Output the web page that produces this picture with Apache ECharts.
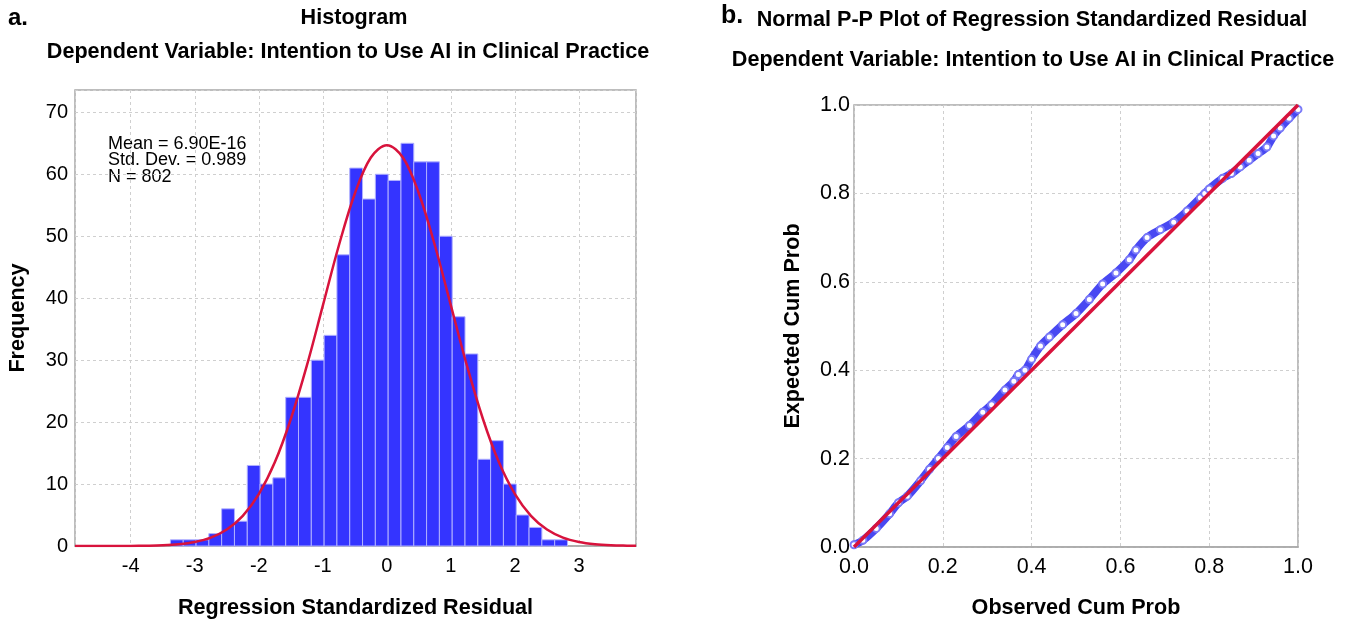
<!DOCTYPE html>
<html>
<head>
<meta charset="utf-8">
<script src="https://cdn.jsdelivr.net/npm/echarts@6/dist/echarts.min.js"></script>
<style>
html,body{margin:0;padding:0;background:#fff;}
#chart{width:1355px;height:624px;}
</style>
</head>
<body>
<div id="chart"></div>
<script>
// ---- Histogram data ----
const binWidth = 0.2;
const binCenters = [-3.28,-3.08,-2.88,-2.68,-2.48,-2.28,-2.08,-1.88,-1.68,-1.48,-1.28,-1.08,-0.88,-0.68,-0.48,-0.28,-0.08,0.12,0.32,0.52,0.72,0.92,1.12,1.32,1.52,1.72,1.92,2.12,2.32,2.52,2.72];
const binCounts  = [1,1,1,2,6,4,13,10,11,24,24,30,34,47,61,56,60,59,65,62,62,50,37,31,14,17,10,5,3,1,1];
// normal curve
const curveX = [-4.87,-4.5,-4.25,-4,-3.75,-3.5,-3.25,-3,-2.75,-2.5,-2.25,-2,-1.75,-1.5,-1.25,-1,-0.75,-0.5,-0.25,0,0.25,0.5,0.75,1,1.25,1.5,1.75,2,2.25,2.5,2.75,3,3.25,3.5,3.75,3.89];
const curveY = [0,0.002,0.006,0.018,0.05,0.12,0.29,0.65,1.35,2.65,4.87,8.37,13.5,20.5,29.1,38.8,48.5,56.9,62.7,64.7,62.7,56.9,48.5,38.8,29.1,20.5,13.5,8.37,4.87,2.65,1.35,0.65,0.29,0.12,0.05,0.03];
const statsLines = ['Mean = 6.90E-16','Std. Dev. = 0.989','N = 802'];

// ---- P-P plot data ----
const obsProb = [0.00,0.02,0.05,0.08,0.10,0.12,0.15,0.17,0.19,0.21,0.23,0.26,0.29,0.31,0.34,0.36,0.37,0.385,0.40,0.42,0.44,0.47,0.50,0.53,0.56,0.59,0.62,0.635,0.66,0.69,0.72,0.75,0.78,0.79,0.80,0.83,0.85,0.87,0.89,0.91,0.93,0.945,0.96,0.98,1.00];
const expProb = [0.005,0.015,0.042,0.075,0.10,0.115,0.15,0.176,0.20,0.225,0.25,0.275,0.305,0.322,0.355,0.375,0.39,0.40,0.425,0.455,0.475,0.503,0.528,0.56,0.595,0.62,0.65,0.672,0.70,0.718,0.735,0.76,0.79,0.80,0.81,0.834,0.845,0.86,0.875,0.89,0.905,0.93,0.948,0.97,0.99];
const refLine = [[0,0],[1,1]];

const FONT = "'Liberation Sans', Arial, sans-serif";
const RED = '#d8133c';
const BLUE = '#3434ff';
const splitStyle = {show:true, lineStyle:{color:'#cfcfcf', width:1, type:[3,3]}};

const chart = echarts.init(document.getElementById('chart'), null, {renderer:'canvas'});

function titleText(x, y, text, size, align){
  return {type:'text', x:x, y:y, style:{text:text, fontFamily:FONT, fontWeight:'bold', fontSize:size, fill:'#000', align:align||'center', verticalAlign:'middle'}};
}
function statText(y, text){
  return {type:'text', x:108, y:y, style:{text:text, fontFamily:FONT, fontSize:18, fill:'#000', align:'left', verticalAlign:'middle'}};
}

const option = {
  backgroundColor:'#fff',
  animation:false,
  textStyle:{fontFamily:FONT},
  grid:[
    {left:75, right:719, top:90, bottom:77, show:true, borderColor:'#a8a8a8', borderWidth:1.5, backgroundColor:'#fff'},
    {left:854, right:57, top:105, bottom:76, show:true, borderColor:'#a8a8a8', borderWidth:1.5, backgroundColor:'#fff'}
  ],
  xAxis:[
    {type:'value', gridIndex:0, min:-4.87, max:3.89, splitNumber:8,
     axisLine:{show:true, onZero:false, lineStyle:{color:'#a8a8a8', width:1.5}}, axisTick:{show:false},
     axisLabel:{showMinLabel:false, showMaxLabel:false, color:'#000', fontSize:20, margin:10, fontFamily:FONT},
     splitLine:splitStyle,
     name:'Regression Standardized Residual', nameLocation:'middle', nameGap:51,
     nameTextStyle:{fontSize:21.6, fontWeight:'bold', color:'#000', fontFamily:FONT}},
    {type:'value', gridIndex:1, min:0, max:1, interval:0.2,
     axisLine:{show:true, lineStyle:{color:'#a8a8a8', width:1.5}}, axisTick:{show:false},
     axisLabel:{color:'#000', fontSize:21.5, margin:9, fontFamily:FONT, formatter:v=>v.toFixed(1)},
     splitLine:splitStyle,
     name:'Observed Cum Prob', nameLocation:'middle', nameGap:50,
     nameTextStyle:{fontSize:21.6, fontWeight:'bold', color:'#000', fontFamily:FONT}}
  ],
  yAxis:[
    {type:'value', gridIndex:0, min:0, max:73.6, interval:10,
     axisLine:{show:false}, axisTick:{show:false},
     axisLabel:{showMaxLabel:false, color:'#000', fontSize:20, margin:7, fontFamily:FONT},
     splitLine:splitStyle,
     name:'Frequency', nameLocation:'middle', nameGap:46,
     nameTextStyle:{fontSize:21.6, fontWeight:'bold', color:'#000', fontFamily:FONT}},
    {type:'value', gridIndex:1, min:0, max:1, interval:0.2,
     axisLine:{show:false}, axisTick:{show:false},
     axisLabel:{color:'#000', fontSize:21.5, margin:4, fontFamily:FONT, formatter:v=>v.toFixed(1)},
     splitLine:splitStyle,
     name:'Expected Cum Prob', nameLocation:'middle', nameGap:50,
     nameTextStyle:{fontSize:21.6, fontWeight:'bold', color:'#000', fontFamily:FONT}}
  ],
  series:[
    {type:'custom', xAxisIndex:0, yAxisIndex:0, z:2,
     data: binCenters.map((c,i)=>[c, binCounts[i]]),
     encode:{x:0, y:1},
     renderItem:function(params, api){
       const c = api.value(0), v = api.value(1);
       const p0 = api.coord([c - binWidth/2, v]);
       const p1 = api.coord([c + binWidth/2, 0]);
       return {type:'rect', shape:{x:p0[0], y:p0[1], width:p1[0]-p0[0], height:p1[1]-p0[1]},
               style:{fill:BLUE, stroke:'#b0b0ff', lineWidth:1}};
     }},
    {type:'line', xAxisIndex:0, yAxisIndex:0, z:3, smooth:0.35, showSymbol:false,
     data: curveX.map((x,i)=>[x, curveY[i]]),
     lineStyle:{color:RED, width:2.5}},
    {type:'line', xAxisIndex:1, yAxisIndex:1, z:2, smooth:0.3, showSymbol:true, symbol:'emptyCircle', symbolSize:7,
     data: obsProb.map((x,i)=>[x, expProb[i]]),
     itemStyle:{color:'#7a7af8', borderColor:'#4444f0', borderWidth:2},
     lineStyle:{color:'#4848f2', width:8}},
    {type:'line', xAxisIndex:1, yAxisIndex:1, z:4, showSymbol:false,
     data: refLine, lineStyle:{color:RED, width:3.5}}
  ],
  graphic:[
    titleText(8, 18, 'a.', 24, 'left'),
    titleText(354, 18, 'Histogram', 21.6),
    titleText(348, 52, 'Dependent Variable: Intention to Use AI in Clinical Practice', 21.6),
    titleText(721, 16, 'b.', 25, 'left'),
    titleText(1032, 20, 'Normal P-P Plot of Regression Standardized Residual', 21.6),
    titleText(1033, 60, 'Dependent Variable: Intention to Use AI in Clinical Practice', 21.6),
    statText(144, statsLines[0]),
    statText(160.5, statsLines[1]),
    statText(177, statsLines[2])
  ]
};
chart.setOption(option);
</script>
</body>
</html>
